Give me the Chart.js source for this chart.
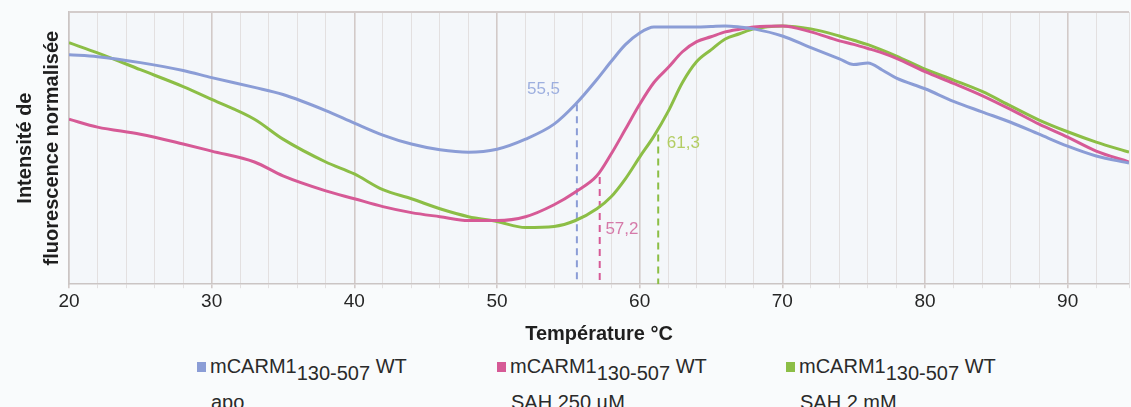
<!DOCTYPE html>
<html>
<head>
<meta charset="utf-8">
<script src="https://cdn.jsdelivr.net/npm/chart.js@4/dist/chart.umd.min.js"></script>
<style>
  html, body { margin: 0; padding: 0; background: #f9fbfc; }
  #wrap { position: relative; width: 1131px; height: 407px; overflow: hidden; font-family: "Liberation Sans", Arial, sans-serif; }
  #chartBox { position: absolute; left: 0; top: 0; width: 1131px; height: 346px; }
  .leg { position: absolute; color: #2a2a2a; font-size: 20px; line-height: 20px; white-space: nowrap; }
  .leg .sq { display: inline-block; width: 9px; height: 10px; margin-right: 4px; vertical-align: 1px; }
  .leg sub { font-size: 20px; vertical-align: -7px; line-height: 0; }
  .leg .l2 { position: absolute; left: 14px; top: 36px; }
</style>
</head>
<body>
<div id="wrap">
  <div id="chartBox"><canvas id="chartTm"></canvas></div>
  <div class="leg" style="left:197px; top:356px;"><span class="sq" style="background:#8b9dd6"></span>mCARM1<sub>130-507</sub> WT<div class="l2">apo</div></div>
  <div class="leg" style="left:497px; top:356px;"><span class="sq" style="background:#d65a96"></span>mCARM1<sub>130-507</sub> WT<div class="l2">SAH 250 µM</div></div>
  <div class="leg" style="left:786px; top:356px;"><span class="sq" style="background:#8cbe46"></span>mCARM1<sub>130-507</sub> WT<div class="l2">SAH 2 mM</div></div>
</div>
<script>
// temperatures (°C) and normalised fluorescence
var temperatures = [20, 22, 25, 28, 30, 33, 35, 38, 40, 42, 44, 46, 48, 50, 52, 54, 55.5, 57, 58, 59, 60, 61, 62, 63, 64, 65, 66, 67, 68, 70, 72, 74, 75, 76, 77, 78, 80, 82, 84, 86, 88, 90, 92, 94.3];
var apo = [0.843, 0.836, 0.814, 0.785, 0.759, 0.723, 0.697, 0.638, 0.592, 0.548, 0.515, 0.494, 0.485, 0.496, 0.533, 0.588, 0.661, 0.752, 0.818, 0.880, 0.923, 0.945, 0.945, 0.945, 0.945, 0.947, 0.949, 0.945, 0.938, 0.912, 0.869, 0.828, 0.807, 0.813, 0.787, 0.757, 0.718, 0.672, 0.633, 0.595, 0.551, 0.507, 0.471, 0.445];
var sah250 = [0.606, 0.577, 0.551, 0.515, 0.489, 0.449, 0.398, 0.343, 0.314, 0.285, 0.263, 0.248, 0.234, 0.234, 0.248, 0.292, 0.339, 0.398, 0.478, 0.569, 0.661, 0.741, 0.796, 0.854, 0.891, 0.909, 0.927, 0.937, 0.945, 0.949, 0.927, 0.894, 0.881, 0.866, 0.850, 0.830, 0.781, 0.738, 0.693, 0.642, 0.588, 0.540, 0.489, 0.449];
var sah2 = [0.887, 0.850, 0.788, 0.726, 0.679, 0.606, 0.533, 0.449, 0.405, 0.347, 0.314, 0.277, 0.248, 0.230, 0.208, 0.212, 0.234, 0.277, 0.321, 0.387, 0.467, 0.544, 0.635, 0.741, 0.818, 0.861, 0.901, 0.920, 0.938, 0.949, 0.938, 0.912, 0.896, 0.880, 0.860, 0.838, 0.790, 0.750, 0.708, 0.655, 0.603, 0.560, 0.522, 0.485];

// melting temperatures (dashed markers)
var tmValues = [55.6, 57.2, 61.3];
var tmTops = [0.661, 0.394, 0.55];
var tmLabels = ['55,5', '57,2', '61,3'];
var tmLabelX = [52.1, 57.6, 61.9];
var tmLabelY = [0.715, 0.20, 0.518];

var lineColors = ['#8b9dd6', '#d65a96', '#8cbe46'];
var labelColors = ['#9dafdf', '#d57aa9', '#b3cd63'];

function toPoints(ys) {
  return temperatures.map(function (t, i) { return { x: t, y: ys[i] }; });
}

var curves = [apo, sah250, sah2].map(function (ys, i) {
  return {
    data: toPoints(ys),
    borderColor: lineColors[i],
    borderWidth: 3,
    pointRadius: 0,
    tension: 0.4,
    cubicInterpolationMode: 'monotone'
  };
});

var markers = tmValues.map(function (tm, i) {
  return {
    data: [{ x: tm, y: tmTops[i] }, { x: tm, y: 0 }],
    borderColor: lineColors[i],
    borderWidth: 2,
    borderDash: [7, 5],
    pointRadius: 0
  };
});

var plotBox = {
  id: 'plotBox',
  beforeDraw: function (chart) {
    var a = chart.chartArea, ctx = chart.ctx;
    ctx.save();
    ctx.fillStyle = '#f4f7fa';
    ctx.fillRect(a.left, a.top, a.right - a.left, a.bottom - a.top);
    ctx.restore();
  },
  afterDraw: function (chart) {
    var a = chart.chartArea, ctx = chart.ctx;
    var xs = chart.scales.x, ys = chart.scales.y;
    ctx.save();
    ctx.strokeStyle = '#d3cccb';
    ctx.lineWidth = 2;
    ctx.beginPath();
    ctx.moveTo(a.left, a.top);
    ctx.lineTo(a.right, a.top);
    ctx.stroke();
    ctx.font = '17px "Liberation Sans", Arial, sans-serif';
    ctx.textBaseline = 'middle';
    tmLabels.forEach(function (txt, i) {
      ctx.fillStyle = labelColors[i];
      ctx.fillText(txt, xs.getPixelForValue(tmLabelX[i]), ys.getPixelForValue(tmLabelY[i]));
    });
    ctx.restore();
  }
};

new Chart(document.getElementById('chartTm'), {
  type: 'line',
  data: { datasets: curves.concat(markers) },
  plugins: [plotBox],
  options: {
    responsive: true,
    maintainAspectRatio: false,
    animation: false,
    layout: { padding: { left: 8, top: 12, right: 0, bottom: 0 } },
    plugins: { legend: { display: false }, tooltip: { enabled: false } },
    scales: {
      x: {
        type: 'linear',
        min: 20,
        max: 94.3,
        ticks: {
          stepSize: 2,
          padding: 2,
          color: '#262626',
          font: { family: '"Liberation Sans", Arial, sans-serif', size: 19 },
          autoSkip: false,
          maxRotation: 0,
          callback: function (v) { return v % 10 === 0 ? v : ''; }
        },
        grid: {
          tickLength: 4,
          color: function (c) { return c.tick && c.tick.value % 10 === 0 ? '#d2cac8' : '#e3e0e0'; },
          lineWidth: function (c) { return c.tick && c.tick.value % 10 === 0 ? 1.6 : 1; }
        },
        border: { color: '#cbc5c4', width: 1.5 },
        title: {
          display: true,
          text: 'Température °C',
          color: '#1f1f1f',
          padding: { top: 7, bottom: 0 },
          font: { family: '"Liberation Sans", Arial, sans-serif', size: 20, weight: 'bold' }
        }
      },
      y: {
        min: 0,
        max: 1,
        ticks: { display: false },
        grid: { display: false },
        border: { color: '#cbc5c4', width: 1.5 },
        title: {
          display: true,
          text: ['Intensité de', 'fluorescence normalisée'],
          color: '#1f1f1f',
          padding: { top: 4, bottom: 0 },
          font: { family: '"Liberation Sans", Arial, sans-serif', size: 20, weight: 'bold', lineHeight: 1.35 }
        },
        afterFit: function (s) { s.width = 61; }
      }
    }
  }
});
</script>
</body>
</html>
